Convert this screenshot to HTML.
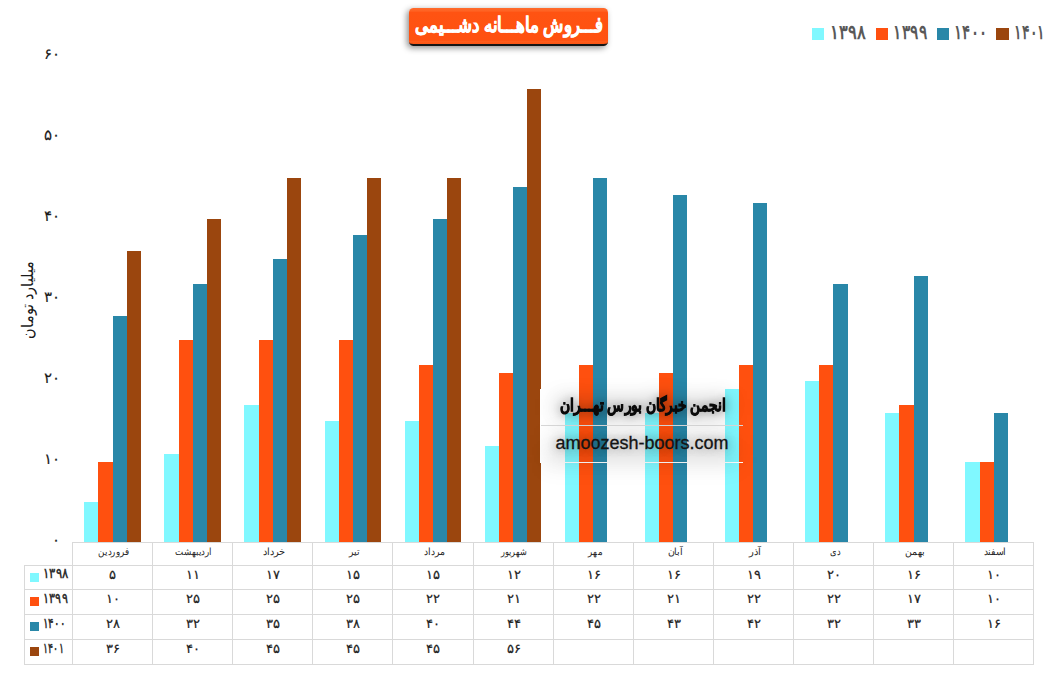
<!DOCTYPE html>
<html lang="fa">
<head>
<meta charset="utf-8">
<title>فروش ماهانه دشیمی</title>
<style>
html,body{margin:0;padding:0;background:#fff;}
body{width:1047px;height:700px;overflow:hidden;position:relative;font-family:"Liberation Sans",sans-serif;}
svg.chart{position:absolute;left:0;top:0;display:block;}
svg text{font-family:"Liberation Sans",sans-serif;direction:ltr;unicode-bidi:plaintext;}
.yl text{font-size:14.5px;fill:#1a1a1a;stroke:#1a1a1a;stroke-width:.15px;}
.yt{font-size:16px;fill:#1a1a1a;}
.cat text{font-size:10px;fill:#262626;}
.tv text{font-size:12.5px;fill:#222;stroke:#222;stroke-width:.2px;}
.tl text{font-size:13.5px;font-weight:bold;fill:#333;}
.lg text{font-size:20px;font-weight:bold;fill:#595959;}
.title{position:absolute;left:409px;top:8px;width:199px;height:36px;border-radius:4.5px;
  background:linear-gradient(#ff6b2d 0,#ff6222 3px,#ff5312 4.5px,#ff5110 32px,#ff5c1c 33.5px,#fb5514 36px);
  border-bottom:2px solid #161616;box-shadow:-2px 2px 6px rgba(0,0,0,.45);}
.title svg{position:absolute;left:0;top:0;}
.title text{font-size:21px;font-weight:bold;fill:#fff;stroke:#fff;stroke-width:.6px;}
.wm{position:absolute;left:540px;top:389px;width:202px;height:73px;border-left:1px solid #fff;border-bottom:1px solid #fff;
  }
.wm .l1{position:absolute;left:0;top:0;width:202px;height:36px;border-bottom:1px solid #d6d6d6;}
.wm .g{position:absolute;background:rgba(0,0,0,.12);filter:blur(10px);}
.wm svg{position:absolute;left:-20px;top:-20px;overflow:visible;}
.wm .fa{font-size:16.5px;font-weight:bold;fill:#0a0a0a;stroke:#0a0a0a;stroke-width:.9px;}
.wm .en{position:absolute;left:-19px;top:42px;width:240px;text-align:center;font-size:18px;line-height:24px;color:#141414;
  text-shadow:0 0 8px rgba(0,0,0,.28),0 0 14px rgba(0,0,0,.15);direction:ltr;-webkit-text-stroke:.3px #141414;white-space:nowrap;}
</style>
</head>
<body>
<svg class="chart" width="1047" height="700" viewBox="0 0 1047 700">
<g shape-rendering="crispEdges">
<rect x="84" y="502" width="14" height="40" fill="#80f8ff"/>
<rect x="98" y="462" width="15" height="80" fill="#ff500f"/>
<rect x="113" y="316" width="14" height="226" fill="#2987a8"/>
<rect x="127" y="251" width="14" height="291" fill="#9b460e"/>
<rect x="164" y="454" width="15" height="88" fill="#80f8ff"/>
<rect x="179" y="340" width="14" height="202" fill="#ff500f"/>
<rect x="193" y="284" width="14" height="258" fill="#2987a8"/>
<rect x="207" y="219" width="14" height="323" fill="#9b460e"/>
<rect x="244" y="405" width="15" height="137" fill="#80f8ff"/>
<rect x="259" y="340" width="14" height="202" fill="#ff500f"/>
<rect x="273" y="259" width="14" height="283" fill="#2987a8"/>
<rect x="287" y="178" width="14" height="364" fill="#9b460e"/>
<rect x="325" y="421" width="14" height="121" fill="#80f8ff"/>
<rect x="339" y="340" width="14" height="202" fill="#ff500f"/>
<rect x="353" y="235" width="14" height="307" fill="#2987a8"/>
<rect x="367" y="178" width="14" height="364" fill="#9b460e"/>
<rect x="405" y="421" width="14" height="121" fill="#80f8ff"/>
<rect x="419" y="365" width="14" height="177" fill="#ff500f"/>
<rect x="433" y="219" width="14" height="323" fill="#2987a8"/>
<rect x="447" y="178" width="14" height="364" fill="#9b460e"/>
<rect x="485" y="446" width="14" height="96" fill="#80f8ff"/>
<rect x="499" y="373" width="14" height="169" fill="#ff500f"/>
<rect x="513" y="187" width="14" height="355" fill="#2987a8"/>
<rect x="527" y="89" width="14" height="453" fill="#9b460e"/>
<rect x="565" y="413" width="14" height="129" fill="#80f8ff"/>
<rect x="579" y="365" width="14" height="177" fill="#ff500f"/>
<rect x="593" y="178" width="14" height="364" fill="#2987a8"/>
<rect x="645" y="413" width="14" height="129" fill="#80f8ff"/>
<rect x="659" y="373" width="14" height="169" fill="#ff500f"/>
<rect x="673" y="195" width="14" height="347" fill="#2987a8"/>
<rect x="725" y="389" width="14" height="153" fill="#80f8ff"/>
<rect x="739" y="365" width="14" height="177" fill="#ff500f"/>
<rect x="753" y="203" width="14" height="339" fill="#2987a8"/>
<rect x="805" y="381" width="14" height="161" fill="#80f8ff"/>
<rect x="819" y="365" width="14" height="177" fill="#ff500f"/>
<rect x="833" y="284" width="15" height="258" fill="#2987a8"/>
<rect x="885" y="413" width="14" height="129" fill="#80f8ff"/>
<rect x="899" y="405" width="15" height="137" fill="#ff500f"/>
<rect x="914" y="276" width="14" height="266" fill="#2987a8"/>
<rect x="965" y="462" width="15" height="80" fill="#80f8ff"/>
<rect x="980" y="462" width="14" height="80" fill="#ff500f"/>
<rect x="994" y="413" width="14" height="129" fill="#2987a8"/>
</g>
<g fill="#d9d9d9" shape-rendering="crispEdges">
<rect x="72" y="542" width="962" height="1"/>
<rect x="24" y="565" width="1010" height="1"/>
<rect x="24" y="589" width="1010" height="1"/>
<rect x="24" y="614" width="1010" height="1"/>
<rect x="24" y="639" width="1010" height="1"/>
<rect x="24" y="664" width="1010" height="1"/>
<rect x="72" y="542" width="1" height="123"/>
<rect x="152" y="542" width="1" height="123"/>
<rect x="232" y="542" width="1" height="123"/>
<rect x="312" y="542" width="1" height="123"/>
<rect x="392" y="542" width="1" height="123"/>
<rect x="473" y="542" width="1" height="123"/>
<rect x="553" y="542" width="1" height="123"/>
<rect x="633" y="542" width="1" height="123"/>
<rect x="713" y="542" width="1" height="123"/>
<rect x="793" y="542" width="1" height="123"/>
<rect x="873" y="542" width="1" height="123"/>
<rect x="953" y="542" width="1" height="123"/>
<rect x="1033" y="542" width="1" height="123"/>
<rect x="24" y="565" width="1" height="100"/>
</g>
<g class="yl" text-anchor="end">
<text x="60.2" y="544.5">۰</text>
<text x="60.2" y="463.5">۱۰</text>
<text x="60.2" y="382.5">۲۰</text>
<text x="60.2" y="301.5">۳۰</text>
<text x="60.2" y="220.5">۴۰</text>
<text x="60.2" y="139.5">۵۰</text>
<text x="60.2" y="58.6">۶۰</text>
</g>
<text class="yt" transform="translate(32.5 299.5) rotate(-90)" text-anchor="middle" textLength="78" lengthAdjust="spacingAndGlyphs">میلیارد تومان</text>
<g class="cat" text-anchor="middle">
<text x="114.0" y="555" textLength="31.5" lengthAdjust="spacingAndGlyphs">فروردین</text>
<text x="193.3" y="555" textLength="36.5" lengthAdjust="spacingAndGlyphs">اردیبهشت</text>
<text x="274.0" y="555" textLength="22.5" lengthAdjust="spacingAndGlyphs">خرداد</text>
<text x="354.0" y="555" textLength="11" lengthAdjust="spacingAndGlyphs">تیر</text>
<text x="434.5" y="555" textLength="20.5" lengthAdjust="spacingAndGlyphs">مرداد</text>
<text x="513.8" y="555" textLength="26" lengthAdjust="spacingAndGlyphs">شهریور</text>
<text x="595.0" y="555" textLength="14" lengthAdjust="spacingAndGlyphs">مهر</text>
<text x="675.0" y="555" textLength="15" lengthAdjust="spacingAndGlyphs">آبان</text>
<text x="755.0" y="555" textLength="12" lengthAdjust="spacingAndGlyphs">آذر</text>
<text x="835.0" y="555" textLength="10" lengthAdjust="spacingAndGlyphs">دی</text>
<text x="915.0" y="555" textLength="20.5" lengthAdjust="spacingAndGlyphs">بهمن</text>
<text x="995.0" y="555" textLength="22.5" lengthAdjust="spacingAndGlyphs">اسفند</text>
</g>
<g class="tv" text-anchor="middle">
<text x="112.5" y="578.5">۵</text>
<text x="192.5" y="578.5">۱۱</text>
<text x="272.5" y="578.5">۱۷</text>
<text x="352.5" y="578.5">۱۵</text>
<text x="433.0" y="578.5">۱۵</text>
<text x="513.5" y="578.5">۱۲</text>
<text x="593.5" y="578.5">۱۶</text>
<text x="673.5" y="578.5">۱۶</text>
<text x="753.5" y="578.5">۱۹</text>
<text x="833.5" y="578.5">۲۰</text>
<text x="913.5" y="578.5">۱۶</text>
<text x="993.5" y="578.5">۱۰</text>
<text x="112.5" y="603.0">۱۰</text>
<text x="192.5" y="603.0">۲۵</text>
<text x="272.5" y="603.0">۲۵</text>
<text x="352.5" y="603.0">۲۵</text>
<text x="433.0" y="603.0">۲۲</text>
<text x="513.5" y="603.0">۲۱</text>
<text x="593.5" y="603.0">۲۲</text>
<text x="673.5" y="603.0">۲۱</text>
<text x="753.5" y="603.0">۲۲</text>
<text x="833.5" y="603.0">۲۲</text>
<text x="913.5" y="603.0">۱۷</text>
<text x="993.5" y="603.0">۱۰</text>
<text x="112.5" y="628.0">۲۸</text>
<text x="192.5" y="628.0">۳۲</text>
<text x="272.5" y="628.0">۳۵</text>
<text x="352.5" y="628.0">۳۸</text>
<text x="433.0" y="628.0">۴۰</text>
<text x="513.5" y="628.0">۴۴</text>
<text x="593.5" y="628.0">۴۵</text>
<text x="673.5" y="628.0">۴۳</text>
<text x="753.5" y="628.0">۴۲</text>
<text x="833.5" y="628.0">۳۲</text>
<text x="913.5" y="628.0">۳۳</text>
<text x="993.5" y="628.0">۱۶</text>
<text x="112.5" y="653.0">۳۶</text>
<text x="192.5" y="653.0">۴۰</text>
<text x="272.5" y="653.0">۴۵</text>
<text x="352.5" y="653.0">۴۵</text>
<text x="433.0" y="653.0">۴۵</text>
<text x="513.5" y="653.0">۵۶</text>
</g>
<g shape-rendering="crispEdges">
<rect x="30" y="573" width="9" height="9" fill="#80f8ff"/>
<rect x="30" y="597" width="9" height="9" fill="#ff500f"/>
<rect x="30" y="622" width="9" height="9" fill="#2987a8"/>
<rect x="30" y="647" width="9" height="9" fill="#9b460e"/>
</g>
<g class="tl">
<text x="42.5" y="578.2" textLength="26.5" lengthAdjust="spacingAndGlyphs">۱۳۹۸</text>
<text x="42.5" y="602.7" textLength="25.5" lengthAdjust="spacingAndGlyphs">۱۳۹۹</text>
<text x="42.5" y="627.7" textLength="23.5" lengthAdjust="spacingAndGlyphs">۱۴۰۰</text>
<text x="42.5" y="652.7" textLength="21.5" lengthAdjust="spacingAndGlyphs">۱۴۰۱</text>
</g>
<g shape-rendering="crispEdges">
<rect x="812" y="28" width="12" height="12" fill="#80f8ff"/>
<rect x="876" y="28" width="12" height="12" fill="#ff500f"/>
<rect x="937" y="28" width="12" height="12" fill="#2987a8"/>
<rect x="996" y="28" width="13" height="12" fill="#9b460e"/>
</g>
<g class="lg">
<text x="830" y="39" textLength="36" lengthAdjust="spacingAndGlyphs">۱۳۹۸</text>
<text x="893" y="39" textLength="34" lengthAdjust="spacingAndGlyphs">۱۳۹۹</text>
<text x="954" y="39" textLength="33" lengthAdjust="spacingAndGlyphs">۱۴۰۰</text>
<text x="1014" y="39" textLength="31" lengthAdjust="spacingAndGlyphs">۱۴۰۱</text>
</g>
</svg>
<div class="title"><svg width="199" height="36"><text x="100.2" y="23.6" text-anchor="middle" textLength="188" lengthAdjust="spacingAndGlyphs">فـــروش ماهـــانه دشـــیمی</text></svg></div>
<div class="wm"><div class="g" style="left:14px;top:9px;width:176px;height:18px"></div><div class="g" style="left:9px;top:46px;width:184px;height:20px"></div><div class="g" style="left:4px;top:64px;width:194px;height:14px;background:rgba(0,0,0,.07)"></div><div class="l1"></div>
<svg width="242" height="113"><text class="fa" x="122" y="42" text-anchor="middle" textLength="166" lengthAdjust="spacingAndGlyphs" style="filter:drop-shadow(0 0 5px rgba(0,0,0,.35)) drop-shadow(0 0 10px rgba(0,0,0,.18))">انجمن خبرگان بورس تهـــران</text></svg>
<div class="en">amoozesh-boors.com</div></div>
</body>
</html>
